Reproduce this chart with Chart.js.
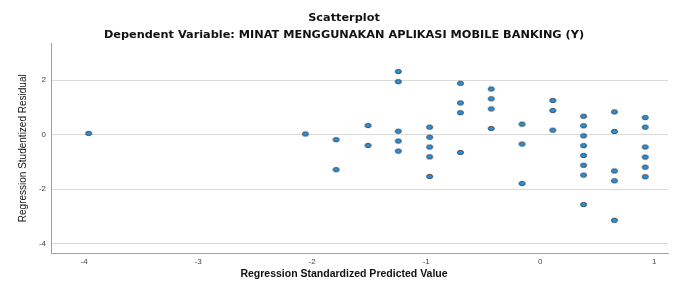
<!DOCTYPE html>
<html>
<head>
<meta charset="utf-8">
<script src="https://cdn.jsdelivr.net/npm/chart.js@4/dist/chart.umd.min.js"></script>
<style>
  html, body { margin: 0; padding: 0; background: #ffffff; }
  #c { display: block; }
</style>
</head>
<body>
<canvas id="c" width="674" height="282"></canvas>
<script>
// ---- data ----
const xValues = [-3.96, -2.06, -1.79, -1.79, -1.51, -1.51,
  -1.245, -1.245, -1.245, -1.245, -1.245,
  -0.97, -0.97, -0.97, -0.97, -0.97,
  -0.70, -0.70, -0.70, -0.70,
  -0.43, -0.43, -0.43, -0.43,
  -0.16, -0.16, -0.16,
  0.11, 0.11, 0.11,
  0.38, 0.38, 0.38, 0.38, 0.38, 0.38, 0.38, 0.38,
  0.65, 0.65, 0.65, 0.65, 0.65,
  0.92, 0.92, 0.92, 0.92, 0.92, 0.92];
const yValues = [0.05, 0.03, -0.18, -1.28, 0.34, -0.39,
  2.32, 1.95, 0.13, -0.23, -0.60,
  0.28, -0.09, -0.45, -0.81, -1.53,
  1.89, 1.17, 0.81, -0.65,
  1.68, 1.32, 0.95, 0.23,
  0.39, -0.34, -1.79,
  1.26, 0.89, 0.17,
  0.68, 0.33, -0.04, -0.40, -0.76, -1.12, -1.48, -2.56,
  0.84, 0.12, -1.33, -1.69, -3.14,
  0.63, 0.28, -0.45, -0.82, -1.19, -1.54];
const xTicks = [-4, -3, -2, -1, 0, 1];
const yTicks = [-4, -2, 0, 2];
const xRange = [-4.29, 1.12];
const yRange = [-4.34, 3.35];
const titleLines = ['Scatterplot', 'Dependent Variable: MINAT MENGGUNAKAN APLIKASI MOBILE BANKING (Y)'];
const xAxisTitle = 'Regression Standardized Predicted Value';
const yAxisTitle = 'Regression Studentized Residual';

// ---- marker: small elliptical dot ----
function makeDot() {
  const c = document.createElement('canvas');
  c.width = 9; c.height = 7;
  const g = c.getContext('2d');
  g.beginPath();
  g.ellipse(4.5, 3.5, 3.0, 2.1, 0, 0, Math.PI * 2);
  g.fillStyle = '#2596e6';
  g.fill();
  g.lineWidth = 1;
  g.strokeStyle = '#2f3a46';
  g.stroke();
  return c;
}
const dot = makeDot();

const points = xValues.map((x, i) => ({ x: x, y: yValues[i] }));
const FONT = "'Liberation Sans', Arial, sans-serif";

new Chart(document.getElementById('c'), {
  type: 'scatter',
  data: {
    datasets: [{
      data: points,
      pointStyle: dot,
      pointRadius: 4,
      pointHoverRadius: 4
    }]
  },
  options: {
    responsive: false,
    animation: false,
    events: [],
    layout: { padding: { left: 20, right: 6, top: 0, bottom: 0 } },
    plugins: {
      legend: { display: false },
      tooltip: { enabled: false },
      title: {
        display: true,
        text: titleLines,
        color: '#111111',
        font: { family: "'DejaVu Sans', sans-serif", size: 11.3, weight: 'bold', lineHeight: 17 / 11.3 },
        padding: { top: 9.5, bottom: 0 }
      },
      subtitle: {
        display: true,
        position: 'bottom',
        text: xAxisTitle,
        color: '#111111',
        font: { family: FONT, size: 10.5, weight: 'bold', lineHeight: 1.2 },
        padding: { top: 0, bottom: 2 }
      }
    },
    scales: {
      x: {
        type: 'linear',
        min: xRange[0],
        max: xRange[1],
        afterBuildTicks: (axis) => { axis.ticks = xTicks.map(v => ({ value: v })); },
        afterFit: (s) => { s.height = 14.4; },
        grid: { display: false, drawTicks: false },
        border: { display: true, color: '#a0a0a0', width: 1 },
        ticks: {
          color: '#444444',
          font: { family: FONT, size: 8 },
          padding: 4,
          maxRotation: 0,
          autoSkip: false
        }
      },
      y: {
        type: 'linear',
        min: yRange[0],
        max: yRange[1],
        afterBuildTicks: (axis) => { axis.ticks = yTicks.map(v => ({ value: v })); },
        afterFit: (s) => { s.width = 31; },
        grid: { color: '#dadada', lineWidth: 1, drawTicks: false },
        border: { display: true, color: '#a0a0a0', width: 1 },
        ticks: {
          color: '#444444',
          font: { family: FONT, size: 8 },
          padding: 5,
          autoSkip: false
        },
        title: {
          display: true,
          text: yAxisTitle,
          color: '#111111',
          font: { family: FONT, size: 10 },
          padding: { top: -3, bottom: 0 }
        }
      }
    }
  }
});
</script>
</body>
</html>
